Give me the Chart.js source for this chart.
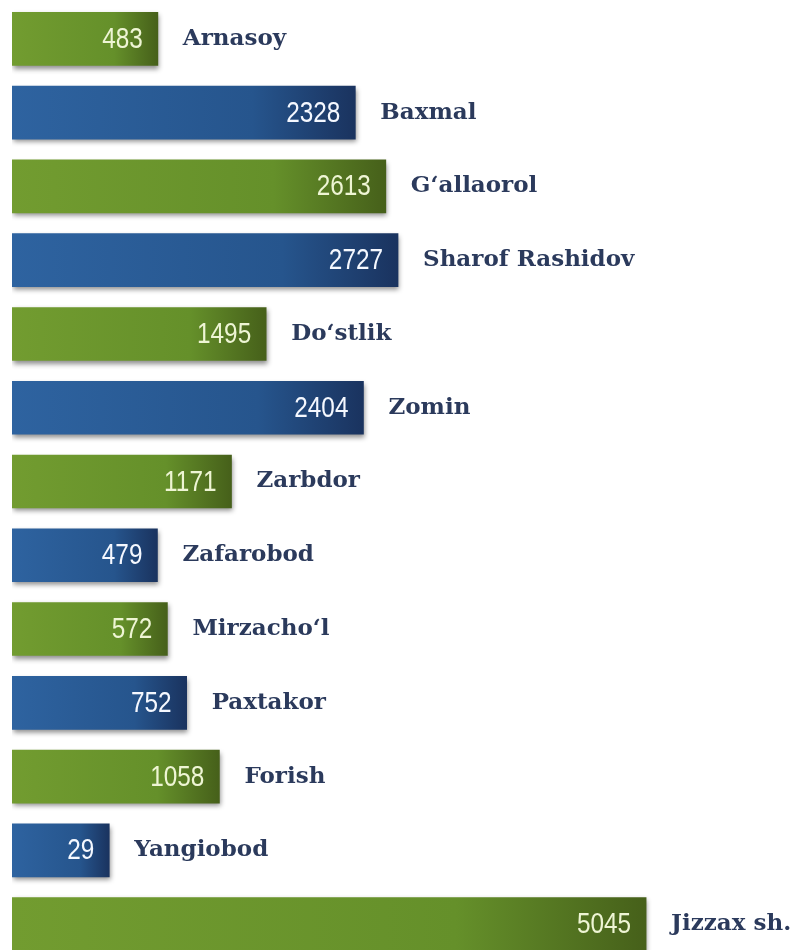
<!DOCTYPE html>
<html>
<head>
<meta charset="utf-8">
<script src="https://cdn.jsdelivr.net/npm/chart.js@4.4.1/dist/chart.umd.min.js"></script>
<style>
  html, body { margin: 0; padding: 0; background: #ffffff; overflow: hidden; }
  #wrap { width: 799px; height: 961px; position: relative; }
</style>
</head>
<body>
<div id="wrap"><canvas id="barChart"></canvas></div>
<script>
// Tumanlar va qiymatlar
const districts = [
  "Arnasoy", "Baxmal", "G\u2018allaorol", "Sharof Rashidov", "Do\u2018stlik",
  "Zomin", "Zarbdor", "Zafarobod", "Mirzacho\u2018l", "Paxtakor",
  "Forish", "Yangiobod", "Jizzax sh."
];
const values = [483, 2328, 2613, 2727, 1495, 2404, 1171, 479, 572, 752, 1058, 29, 5045];

// ranglar: juft qatorlar yashil, toq qatorlar ko'k
const greenStops = ["#729c30", "#65902a", "#46601a"];
const blueStops = ["#2e63a0", "#26558d", "#1a335f"];

const X_MIN = -880; // barlar shu qiymatdan boshlanadi
const X_MAX = 6380;

function barGradient(context) {
  const chart = context.chart;
  const area = chart.chartArea;
  const stops = context.dataIndex % 2 === 0 ? greenStops : blueStops;
  if (!area) return stops[1];
  const xScale = chart.scales.x;
  const x0 = xScale.getPixelForValue(X_MIN);
  const x1 = xScale.getPixelForValue(values[context.dataIndex]);
  const g = chart.ctx.createLinearGradient(x0, 0, x1, 0);
  g.addColorStop(0, stops[0]);
  g.addColorStop(0.7, stops[1]);
  g.addColorStop(1, stops[2]);
  return g;
}

// soya
const shadowPlugin = {
  id: "shadow",
  beforeDatasetsDraw(chart) {
    const ctx = chart.ctx;
    ctx.save();
    ctx.shadowColor = "rgba(0,0,0,0.45)";
    ctx.shadowBlur = 5;
    ctx.shadowOffsetX = 1;
    ctx.shadowOffsetY = 3;
  },
  afterDatasetsDraw(chart) {
    chart.ctx.restore();
  }
};

// qiymat va nomlarni chizish
const labelPlugin = {
  id: "labels",
  afterDraw(chart) {
    const ctx = chart.ctx;
    const meta = chart.getDatasetMeta(0);
    meta.data.forEach((bar, i) => {
      // qiymat (tor shrift)
      ctx.save();
      ctx.textBaseline = "middle";
      ctx.font = "29px 'Liberation Sans', Arial, sans-serif";
      ctx.fillStyle = i % 2 === 0 ? "#eef5d4" : "#f5f8ff";
      ctx.textAlign = "right";
      ctx.translate(bar.x - 15, bar.y + 1);
      ctx.scale(0.84, 1);
      ctx.fillText(String(values[i]), 0, 0);
      ctx.restore();
      // nom
      ctx.save();
      ctx.textBaseline = "middle";
      ctx.font = "bold 23px 'DejaVu Serif', serif";
      ctx.fillStyle = "#2b3a5c";
      ctx.textAlign = "left";
      ctx.fillText(districts[i], bar.x + 25, bar.y);
      ctx.restore();
    });
  }
};

const chart = new Chart(document.getElementById("barChart"), {
  type: "bar",
  data: {
    labels: districts,
    datasets: [{
      data: values,
      base: X_MIN,
      backgroundColor: barGradient,
      borderWidth: 0,
      barThickness: 53
    }]
  },
  options: {
    indexAxis: "y",
    responsive: true,
    maintainAspectRatio: false,
    animation: false,
    layout: { padding: { left: 12, right: 10, top: 2, bottom: 0 } },
    scales: {
      x: { min: X_MIN, max: X_MAX, display: false },
      y: { display: false }
    },
    plugins: {
      legend: { display: false },
      tooltip: { enabled: false }
    }
  },
  plugins: [shadowPlugin, labelPlugin]
});
</script>
</body>
</html>
